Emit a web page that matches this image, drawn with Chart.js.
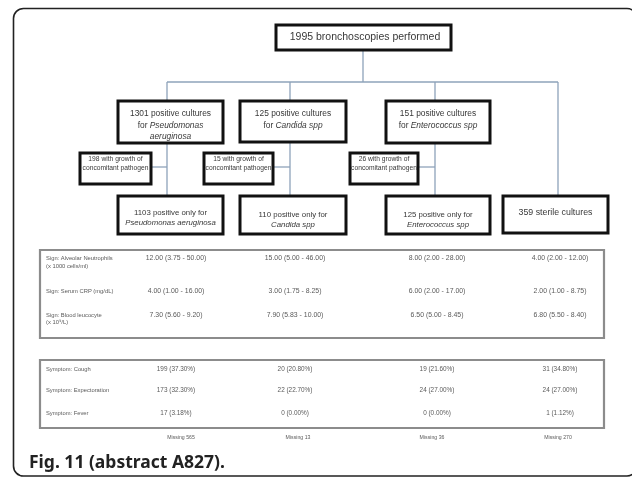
<!DOCTYPE html>
<html>
<head>
<meta charset="utf-8">
<script src="https://cdn.jsdelivr.net/npm/chart.js@4/dist/chart.umd.min.js"></script>
<style>
  html, body { margin: 0; padding: 0; background: #fff; overflow: hidden; }
  canvas { display: block; }
</style>
</head>
<body>
<canvas id="c" width="632" height="479"></canvas>
<script>
// ---------------- DATA ----------------
const totalBronchoscopies = 1995;
const organisms = [['Pseudomonas', 'aeruginosa'], ['Candida', 'spp'], ['Enterococcus', 'spp']];
const positiveCultures = [1301, 125, 151];
const concomitantGrowth = [198, 15, 26];
const positiveOnly = [1103, 110, 125];
const sterileCultures = 359;

const signLabels = [['Sign: Alveolar Neutrophils', '(x 1000 cells/ml)'], ['Sign: Serum CRP (mg/dL)'], ['Sign: Blood leucocyte', '(x 10\u2079/L)']];
const alveolarNeutrophils = ['12.00 (3.75 - 50.00)', '15.00 (5.00 - 46.00)', '8.00 (2.00 - 28.00)', '4.00 (2.00 - 12.00)'];
const serumCRP = ['4.00 (1.00 - 16.00)', '3.00 (1.75 - 8.25)', '6.00 (2.00 - 17.00)', '2.00 (1.00 - 8.75)'];
const bloodLeucocyte = ['7.30 (5.60 - 9.20)', '7.90 (5.83 - 10.00)', '6.50 (5.00 - 8.45)', '6.80 (5.50 - 8.40)'];

const symptomLabels = ['Symptom: Cough', 'Symptom: Expectoration', 'Symptom: Fever'];
const cough = ['199 (37.30%)', '20 (20.80%)', '19 (21.60%)', '31 (34.80%)'];
const expectoration = ['173 (32.30%)', '22 (22.70%)', '24 (27.00%)', '24 (27.00%)'];
const fever = ['17 (3.18%)', '0 (0.00%)', '0 (0.00%)', '1 (1.12%)'];
const missing = [565, 13, 36, 270];

const caption = 'Fig. 11 (abstract A827).';

// ---------------- LAYOUT (page units) ----------------
const L = {
  outer: { x1: 13.5, y1: 8.5, x2: 637, y2: 476, r: 10 },
  topBox: { x1: 276, y1: 25, x2: 451, y2: 50, tx: 365, ty: [37.5] },
  branchY: 82,
  topX: 363,
  colX: [167, 290, 435, 558],
  midBoxes: [
    { x1: 118, y1: 101, x2: 223, y2: 143, ty: [114, 125.5, 137] },
    { x1: 240, y1: 101, x2: 346, y2: 142, ty: [114, 125.5] },
    { x1: 386, y1: 101, x2: 490, y2: 143, ty: [114, 125.5] }
  ],
  smallBoxes: [
    { x1: 80, y1: 153, x2: 151, y2: 184, ty: [159.5, 168.5] },
    { x1: 204, y1: 153, x2: 273, y2: 184, ty: [159.5, 168.5] },
    { x1: 350, y1: 153, x2: 418, y2: 184, ty: [159.5, 168.5] }
  ],
  linkY: 167,
  botBoxes: [
    { x1: 118, y1: 196, x2: 223, y2: 234, ty: [212.5, 223] },
    { x1: 240, y1: 196, x2: 346, y2: 234, ty: [214.5, 225] },
    { x1: 386, y1: 196, x2: 490, y2: 234, ty: [214.5, 225] },
    { x1: 503, y1: 196, x2: 608, y2: 233, ty: [212.5] }
  ],
  table1: { x1: 40, y1: 250, x2: 604, y2: 338, rows: [[258, 266], [291], [315, 322.5]] },
  table2: { x1: 40, y1: 360, x2: 604, y2: 428, rows: [369, 390.5, 413] },
  labelX: 46,
  valueX: [176, 295, 437, 560],
  missingX: [181, 298, 432, 558],
  missingY: 438,
  captionX: 29, captionY: 468
};

const BOX_COLOR = '#111';
const LINK_COLOR = '#8ea3ba';
const TEXT_COLOR = '#383838';
const TABLE_TEXT = '#5a5a5a';
const FONT = '"Liberation Sans", Arial, sans-serif';

// ---------------- DATASETS ----------------
function seg(x1, y1, x2, y2) {
  return {
    data: [{ x: x1, y: y1 }, { x: x2, y: y2 }],
    showLine: true, pointRadius: 0, borderColor: LINK_COLOR, borderWidth: 1.3,
    fill: false, clip: false, order: 2
  };
}
function rectDs(b, color, w) {
  return {
    data: [{ x: b.x1, y: b.y1 }, { x: b.x2, y: b.y1 }, { x: b.x2, y: b.y2 }, { x: b.x1, y: b.y2 }, { x: b.x1, y: b.y1 }],
    showLine: true, pointRadius: 0, borderColor: color, borderWidth: w,
    borderJoinStyle: 'miter', borderCapStyle: 'square', fill: false, clip: false, order: 1, tension: 0
  };
}

const datasets = [];
// connectors
datasets.push(seg(L.topX, L.topBox.y2, L.topX, L.branchY));
datasets.push(seg(L.colX[0], L.branchY, L.colX[3], L.branchY));
L.midBoxes.forEach((b, i) => {
  datasets.push(seg(L.colX[i], L.branchY, L.colX[i], b.y1));
  datasets.push(seg(L.colX[i], b.y2, L.colX[i], L.botBoxes[i].y1));
  datasets.push(seg(L.smallBoxes[i].x2, L.linkY, L.colX[i], L.linkY));
});
datasets.push(seg(L.colX[3], L.branchY, L.colX[3], L.botBoxes[3].y1));
// boxes
datasets.push(rectDs(L.topBox, BOX_COLOR, 3));
L.midBoxes.forEach(b => datasets.push(rectDs(b, BOX_COLOR, 3)));
L.smallBoxes.forEach(b => datasets.push(rectDs(b, BOX_COLOR, 3)));
L.botBoxes.forEach(b => datasets.push(rectDs(b, BOX_COLOR, 3)));
// tables
datasets.push(rectDs(L.table1, '#8c8c8c', 2.2));
datasets.push(rectDs(L.table2, '#8c8c8c', 2.2));

// ---------------- TEXT PLUGIN ----------------
const I = t => ({ t, i: true });
const N = t => ({ t, i: false });

const textPlugin = {
  id: 'flowText',
  beforeDatasetsDraw(chart) {
    const { ctx } = chart;
    const sx = chart.scales.x, sy = chart.scales.y;
    const o = L.outer;
    const x1 = sx.getPixelForValue(o.x1), y1 = sy.getPixelForValue(o.y1);
    const x2 = sx.getPixelForValue(o.x2), y2 = sy.getPixelForValue(o.y2);
    ctx.save();
    ctx.strokeStyle = '#222';
    ctx.lineWidth = 1.6;
    ctx.beginPath();
    ctx.roundRect(x1, y1, x2 - x1, y2 - y1, o.r);
    ctx.stroke();
    ctx.restore();
  },
  afterDatasetsDraw(chart) {
    const { ctx } = chart;
    const sx = chart.scales.x, sy = chart.scales.y;
    const X = v => sx.getPixelForValue(v), Y = v => sy.getPixelForValue(v);

    function runs(line, cx, cy, size, color) {
      const segs = line.map(s => (typeof s === 'string' ? N(s) : s));
      const fontOf = s => (s.i ? 'italic ' : '') + size + 'px ' + FONT;
      let w = 0;
      segs.forEach(s => { ctx.font = fontOf(s); w += ctx.measureText(s.t).width; });
      let x = X(cx) - w / 2;
      ctx.fillStyle = color;
      ctx.textBaseline = 'middle';
      ctx.textAlign = 'left';
      segs.forEach(s => { ctx.font = fontOf(s); ctx.fillText(s.t, x, Y(cy)); x += ctx.measureText(s.t).width; });
    }
    function boxText(b, lines, size, cx) {
      const c = cx !== undefined ? cx : (b.x1 + b.x2) / 2;
      lines.forEach((ln, k) => runs(ln, c, b.ty[k], size, TEXT_COLOR));
    }
    ctx.save();
    // top
    boxText(L.topBox, [[totalBronchoscopies + ' bronchoscopies performed']], 10.5, L.topBox.tx);
    // mid
    boxText(L.midBoxes[0], [[positiveCultures[0] + ' positive cultures'], ['for ', I(organisms[0][0])], [I(organisms[0][1])]], 8.4);
    boxText(L.midBoxes[1], [[positiveCultures[1] + ' positive cultures'], ['for ', I(organisms[1].join(' '))]], 8.4);
    boxText(L.midBoxes[2], [[positiveCultures[2] + ' positive cultures'], ['for ', I(organisms[2].join(' '))]], 8.4);
    // small
    L.smallBoxes.forEach((b, i) => boxText(b, [[concomitantGrowth[i] + ' with growth of'], ['concomitant pathogen']], 6.7));
    // bottom
    L.botBoxes.slice(0, 3).forEach((b, i) => boxText(b, [[positiveOnly[i] + ' positive only for'], [I(organisms[i].join(' '))]], 7.8));
    boxText(L.botBoxes[3], [[sterileCultures + ' sterile cultures']], 8.8);

    // table 1
    const t1vals = [alveolarNeutrophils, serumCRP, bloodLeucocyte];
    ctx.textBaseline = 'middle';
    L.table1.rows.forEach((ys, r) => {
      ctx.font = '5.8px ' + FONT; ctx.fillStyle = TABLE_TEXT; ctx.textAlign = 'left';
      signLabels[r].forEach((t, k) => ctx.fillText(t, X(L.labelX), Y(ys[k])));
      ctx.font = '6.9px ' + FONT; ctx.textAlign = 'center';
      t1vals[r].forEach((v, c) => ctx.fillText(v, X(L.valueX[c]), Y(ys[0])));
    });
    // table 2
    const t2vals = [cough, expectoration, fever];
    L.table2.rows.forEach((y, r) => {
      ctx.font = '5.8px ' + FONT; ctx.fillStyle = TABLE_TEXT; ctx.textAlign = 'left';
      ctx.fillText(symptomLabels[r], X(L.labelX), Y(y));
      ctx.font = '6.4px ' + FONT; ctx.textAlign = 'center';
      t2vals[r].forEach((v, c) => ctx.fillText(v, X(L.valueX[c]), Y(y)));
    });
    ctx.font = '5.2px ' + FONT; ctx.textAlign = 'center';
    missing.forEach((m, c) => ctx.fillText('Missing ' + m, X(L.missingX[c]), Y(L.missingY)));

    // caption
    ctx.font = 'bold 17.5px "Noto Sans", "Open Sans", sans-serif';
    ctx.fillStyle = '#222';
    ctx.textAlign = 'left';
    ctx.textBaseline = 'alphabetic';
    ctx.fillText(caption, X(L.captionX), Y(L.captionY));
    ctx.restore();
  }
};

new Chart(document.getElementById('c'), {
  type: 'scatter',
  data: { datasets },
  options: {
    responsive: false,
    animation: false,
    events: [],
    layout: { padding: 0 },
    plugins: { legend: { display: false }, tooltip: { enabled: false } },
    scales: {
      x: { type: 'linear', min: 0, max: 632, display: false },
      y: { type: 'linear', min: 0, max: 479, reverse: true, display: false }
    }
  },
  plugins: [textPlugin]
});
</script>
</body>
</html>
